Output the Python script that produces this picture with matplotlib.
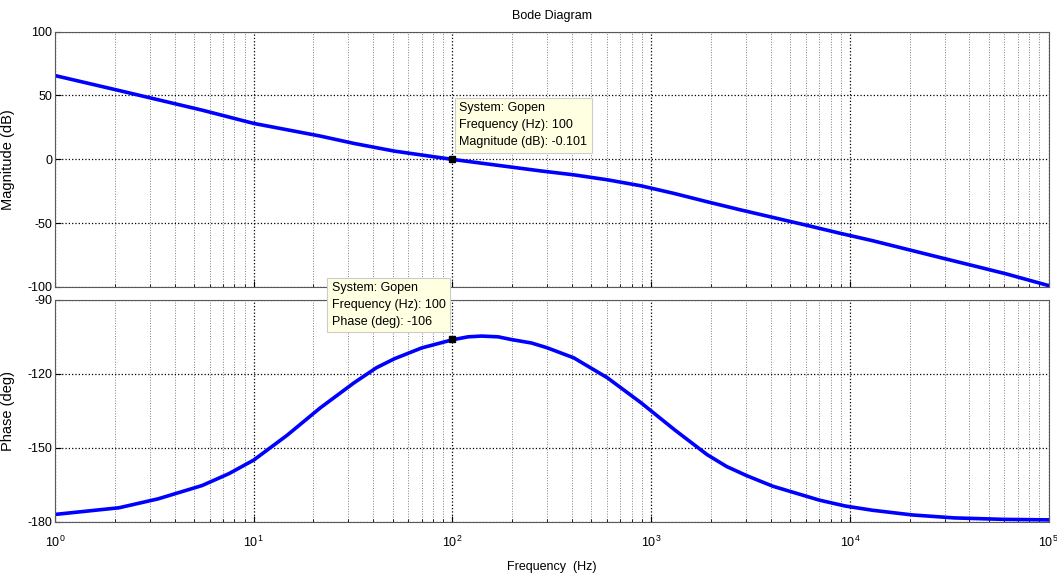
import numpy as np
import matplotlib
matplotlib.use('Agg')
import matplotlib.pyplot as plt
from matplotlib.ticker import LogLocator, NullFormatter

plt.rcParams['font.family'] = ['Liberation Sans', 'DejaVu Sans']
plt.rcParams['axes.unicode_minus'] = False

f_mag = [1, 2.1, 5.5, 10, 21.6, 32, 51, 100, 277, 408, 603, 889, 1306, 1914,
         2805, 4105, 6010, 8810, 13000, 19100, 28100, 41500, 61100, 100000]
mag_db = [65.6, 53.9, 38.5, 28.1, 18.2, 12.4, 6.4, -0.1, -9.1, -12.2, -16.1, -20.8,
          -26.8, -33.3, -39.6, -45.6, -51.6, -57.8, -63.8, -70.3, -76.8, -83.3,
          -89.8, -99.0]

f_fase = [1, 2.1, 3.3, 5.5, 7.5, 10, 14.7, 21.6, 32, 41.5, 51, 70, 100, 120, 140,
          170, 198, 250, 299, 408, 603, 890, 1306, 1914, 2400, 3027, 4105, 7020,
          9500, 13000, 20600, 33500, 60000, 100000]
fase_deg = [-177.0, -174.3, -170.7, -165.3, -160.5, -155.0, -145.0, -133.9, -123.7,
            -117.6, -114.0, -109.6, -106.3, -105.1, -104.8, -105.1, -106.2, -107.6,
            -109.5, -113.6, -121.7, -131.8, -142.6, -152.8, -157.6, -161.3, -165.6,
            -171.2, -173.6, -175.3, -177.2, -178.4, -179.0, -179.2]

# Datos del cursor
f_tip = 100
mag_tip = -0.101
fase_tip = -106

fig = plt.figure(figsize=(10.57, 5.76), dpi=100)
ax1 = fig.add_axes([0.052, 0.502, 0.940, 0.443])
ax2 = fig.add_axes([0.052, 0.094, 0.940, 0.386], sharex=ax1)

azul = (0, 0, 1)
ax1.plot(f_mag, mag_db, color=azul, lw=2.6, solid_joinstyle='round')
ax2.plot(f_fase, fase_deg, color=azul, lw=2.6, solid_joinstyle='round')

for ax in (ax1, ax2):
    ax.set_xscale('log')
    ax.set_xlim(1, 1e5)
    ax.xaxis.set_major_locator(LogLocator(base=10, numticks=10))
    ax.xaxis.set_minor_locator(LogLocator(base=10, subs=np.arange(2, 10), numticks=20))
    ax.xaxis.set_minor_formatter(NullFormatter())
    ax.grid(True, which='major', color='k', linestyle=':', lw=0.9)
    ax.grid(True, which='minor', axis='x', color='0.5', linestyle=':', lw=0.7)
    ax.tick_params(which='both', direction='in', labelsize=9, pad=2)
    ax.tick_params(which='major', length=4)
    ax.tick_params(which='minor', length=2)
    for s in ax.spines.values():
        s.set_color('0.35')
        s.set_linewidth(0.8)

ax1.set_ylim(-100, 100)
ax1.set_yticks([-100, -50, 0, 50, 100])
ax1.tick_params(labelbottom=False)
ax2.set_ylim(-180, -90)
ax2.set_yticks([-180, -150, -120, -90])
ax2.tick_params(axis='x', which='major', pad=9)

ax1.set_title('Bode Diagram', fontsize=9, pad=9)
ax1.set_ylabel('Magnitude (dB)', fontsize=10.5)
ax2.set_ylabel('Phase (deg)', fontsize=10.5)
ax2.set_xlabel('Frequency  (Hz)', fontsize=9, labelpad=8)
ax1.yaxis.set_label_coords(-0.040, 0.5)
ax2.yaxis.set_label_coords(-0.040, 0.5)

# Cursores de datos
caja = dict(boxstyle='square,pad=0.35', fc='#ffffe1', ec='0.8', lw=0.8)
ax1.plot([f_tip], [mag_tip], 's', color='k', ms=4.5, zorder=6)
ax1.annotate('System: Gopen\nFrequency (Hz): %d\nMagnitude (dB): %.3f' % (f_tip, mag_tip),
             xy=(f_tip, mag_tip), xytext=(7, 11), textcoords='offset pixels',
             ha='left', va='bottom', fontsize=9, linespacing=1.55, bbox=caja,
             zorder=7, annotation_clip=False)
ax2.plot([f_tip], [fase_tip], 's', color='k', ms=4.5, zorder=6)
ax2.annotate('System: Gopen\nFrequency (Hz): %d\nPhase (deg): %d' % (f_tip, fase_tip),
             xy=(f_tip, fase_tip), xytext=(-7, 11), textcoords='offset pixels',
             ha='right', va='bottom', multialignment='left', fontsize=9,
             linespacing=1.55, bbox=caja, zorder=7, annotation_clip=False)

fig.savefig('out.png', dpi=100)
